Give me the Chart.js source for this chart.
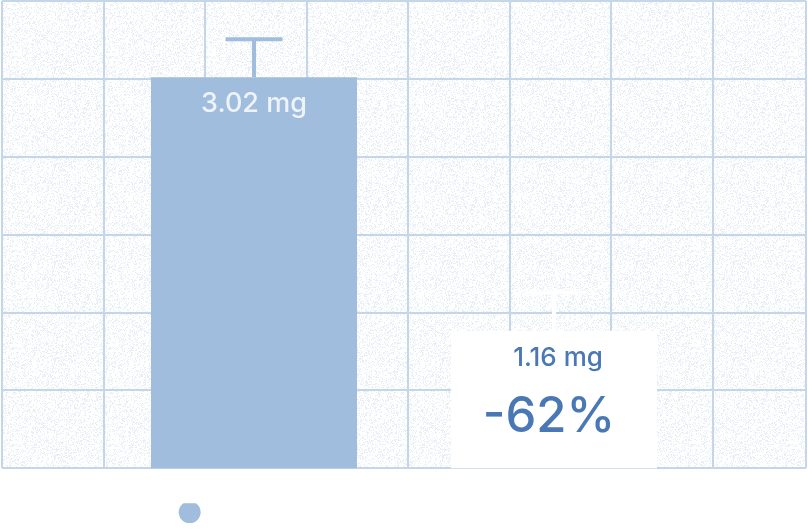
<!DOCTYPE html>
<html><head><meta charset="utf-8">
<script src="https://cdn.jsdelivr.net/npm/chart.js@4.4.1/dist/chart.umd.min.js"></script>
<style>
html,body{margin:0;padding:0;background:#ffffff;}
#wrap{width:808px;height:530px;position:relative;}
</style>
</head><body>
<div id="wrap"><canvas id="c"></canvas></div>
<script>
// ---- data ----
const categories = ['Mercury intake'];
const seriesLabels = ['Before the programme (average)', 'After the programme'];
const beforeValues = [3.02];
const afterValues = [1.16];
const beforeErrors = [0.28];
const afterErrors = [0.28];
const unit = 'mg';
const yRange = [0.15, 3.58];
const xGridTicks = [0, 1, 2, 3, 4, 5, 6, 7, 7.92];

// ---- style ----
const barBlue = '#a0bddd';
const gridBlue = '#c6d6e9';
const textBlue = '#4a78b5';

function noisePattern() {
  const c = document.createElement('canvas');
  c.width = 97; c.height = 97;
  const g = c.getContext('2d');
  const img = g.createImageData(97, 97);
  let s = 12345;
  for (let i = 0; i < 97 * 97; i++) {
    s = (s * 1103515245 + 12345) & 0x7fffffff;
    const r = s / 0x7fffffff;
    const k = i * 4;
    if (r < 0.28) { img.data[k] = 234; img.data[k+1] = 239; img.data[k+2] = 246; img.data[k+3] = 255; }
    else { img.data[k] = 255; img.data[k+1] = 255; img.data[k+2] = 255; img.data[k+3] = 255; }
  }
  g.putImageData(img, 0, 0);
  return c;
}
const noise = noisePattern();

const texture = {
  id: 'texture',
  beforeDraw(chart) {
    const {ctx, chartArea: a} = chart;
    ctx.save();
    ctx.fillStyle = ctx.createPattern(noise, 'repeat');
    ctx.fillRect(a.left, a.top, a.right - a.left, a.bottom - a.top);
    ctx.restore();
  }
};

const errorBars = {
  id: 'errorBars',
  afterDatasetsDraw(chart) {
    const {ctx} = chart;
    const y = chart.scales.y;
    chart.data.datasets.forEach((ds, i) => {
      const meta = chart.getDatasetMeta(i);
      meta.data.forEach((bar, j) => {
        const top = y.getPixelForValue(ds.data[j] + ds.errors[j]);
        ctx.save();
        ctx.strokeStyle = ds.errorColor;
        ctx.lineWidth = 4;
        ctx.beginPath();
        ctx.moveTo(bar.x, bar.y);
        ctx.lineTo(bar.x, top);
        ctx.moveTo(bar.x - 28.5, top);
        ctx.lineTo(bar.x + 28.5, top);
        ctx.stroke();
        ctx.restore();
      });
    });
  }
};

const valueLabels = {
  id: 'valueLabels',
  afterDatasetsDraw(chart) {
    const {ctx} = chart;
    const b = chart.getDatasetMeta(0).data[0];
    const a = chart.getDatasetMeta(1).data[0];
    ctx.save();
    ctx.textAlign = 'center';
    ctx.textBaseline = 'middle';
    ctx.fillStyle = '#eef3fa';
    ctx.font = '500 27px Inter';
    ctx.fillText(beforeValues[0].toFixed(2) + ' ' + unit, b.x, b.y + 27);
    ctx.fillStyle = textBlue;
    ctx.font = '500 26px Inter';
    ctx.fillText(afterValues[0].toFixed(2) + ' ' + unit, a.x + 4, a.y + 27);
    const pct = Math.round((afterValues[0] / beforeValues[0] - 1) * 100);
    ctx.font = '500 49px Inter';
    ctx.fillText(pct + '%', a.x - 5, a.y + 87);
    ctx.restore();
  }
};

new Chart(document.getElementById('c'), {
  type: 'bar',
  data: {
    labels: categories,
    datasets: [
      { label: seriesLabels[0], data: beforeValues, errors: beforeErrors, errorColor: barBlue,
        backgroundColor: barBlue, borderWidth: 0 },
      { label: seriesLabels[1], data: afterValues, errors: afterErrors, errorColor: '#ffffff',
        backgroundColor: '#ffffff', borderWidth: 0 }
    ]
  },
  options: {
    responsive: true,
    maintainAspectRatio: false,
    animation: false,
    layout: { padding: { left: 2, right: 2, top: 1, bottom: 0 } },
    datasets: { bar: { categoryPercentage: 0.7463, barPercentage: 0.6867 } },
    plugins: {
      tooltip: { enabled: false },
      legend: {
        position: 'bottom',
        labels: {
          usePointStyle: true, pointStyle: 'circle',
          boxWidth: 15.5, boxHeight: 15.5,
          padding: 1,
          color: '#ffffff',
          font: { family: 'Inter', size: 15.7 }
        }
      }
    },
    scales: {
      x: { type: 'category', display: false },
      xg: {
        type: 'linear', position: 'bottom', min: 0, max: xGridTicks[xGridTicks.length - 1],
        offset: false,
        afterBuildTicks: s => { s.ticks = xGridTicks.map(v => ({ value: v })); },
        afterFit: s => { s.height = 35; },
        ticks: { display: false },
        grid: { color: gridBlue, lineWidth: 2, drawTicks: false, offset: false },
        border: { display: false }
      },
      y: {
        type: 'linear', min: yRange[0], max: yRange[1],
        ticks: { display: false, count: 7 },
        afterFit: s => { s.width = 0; },
        grid: { color: gridBlue, lineWidth: 2, drawTicks: false },
        border: { display: false }
      }
    }
  },
  plugins: [texture, errorBars, valueLabels]
});
</script>
</body></html>
